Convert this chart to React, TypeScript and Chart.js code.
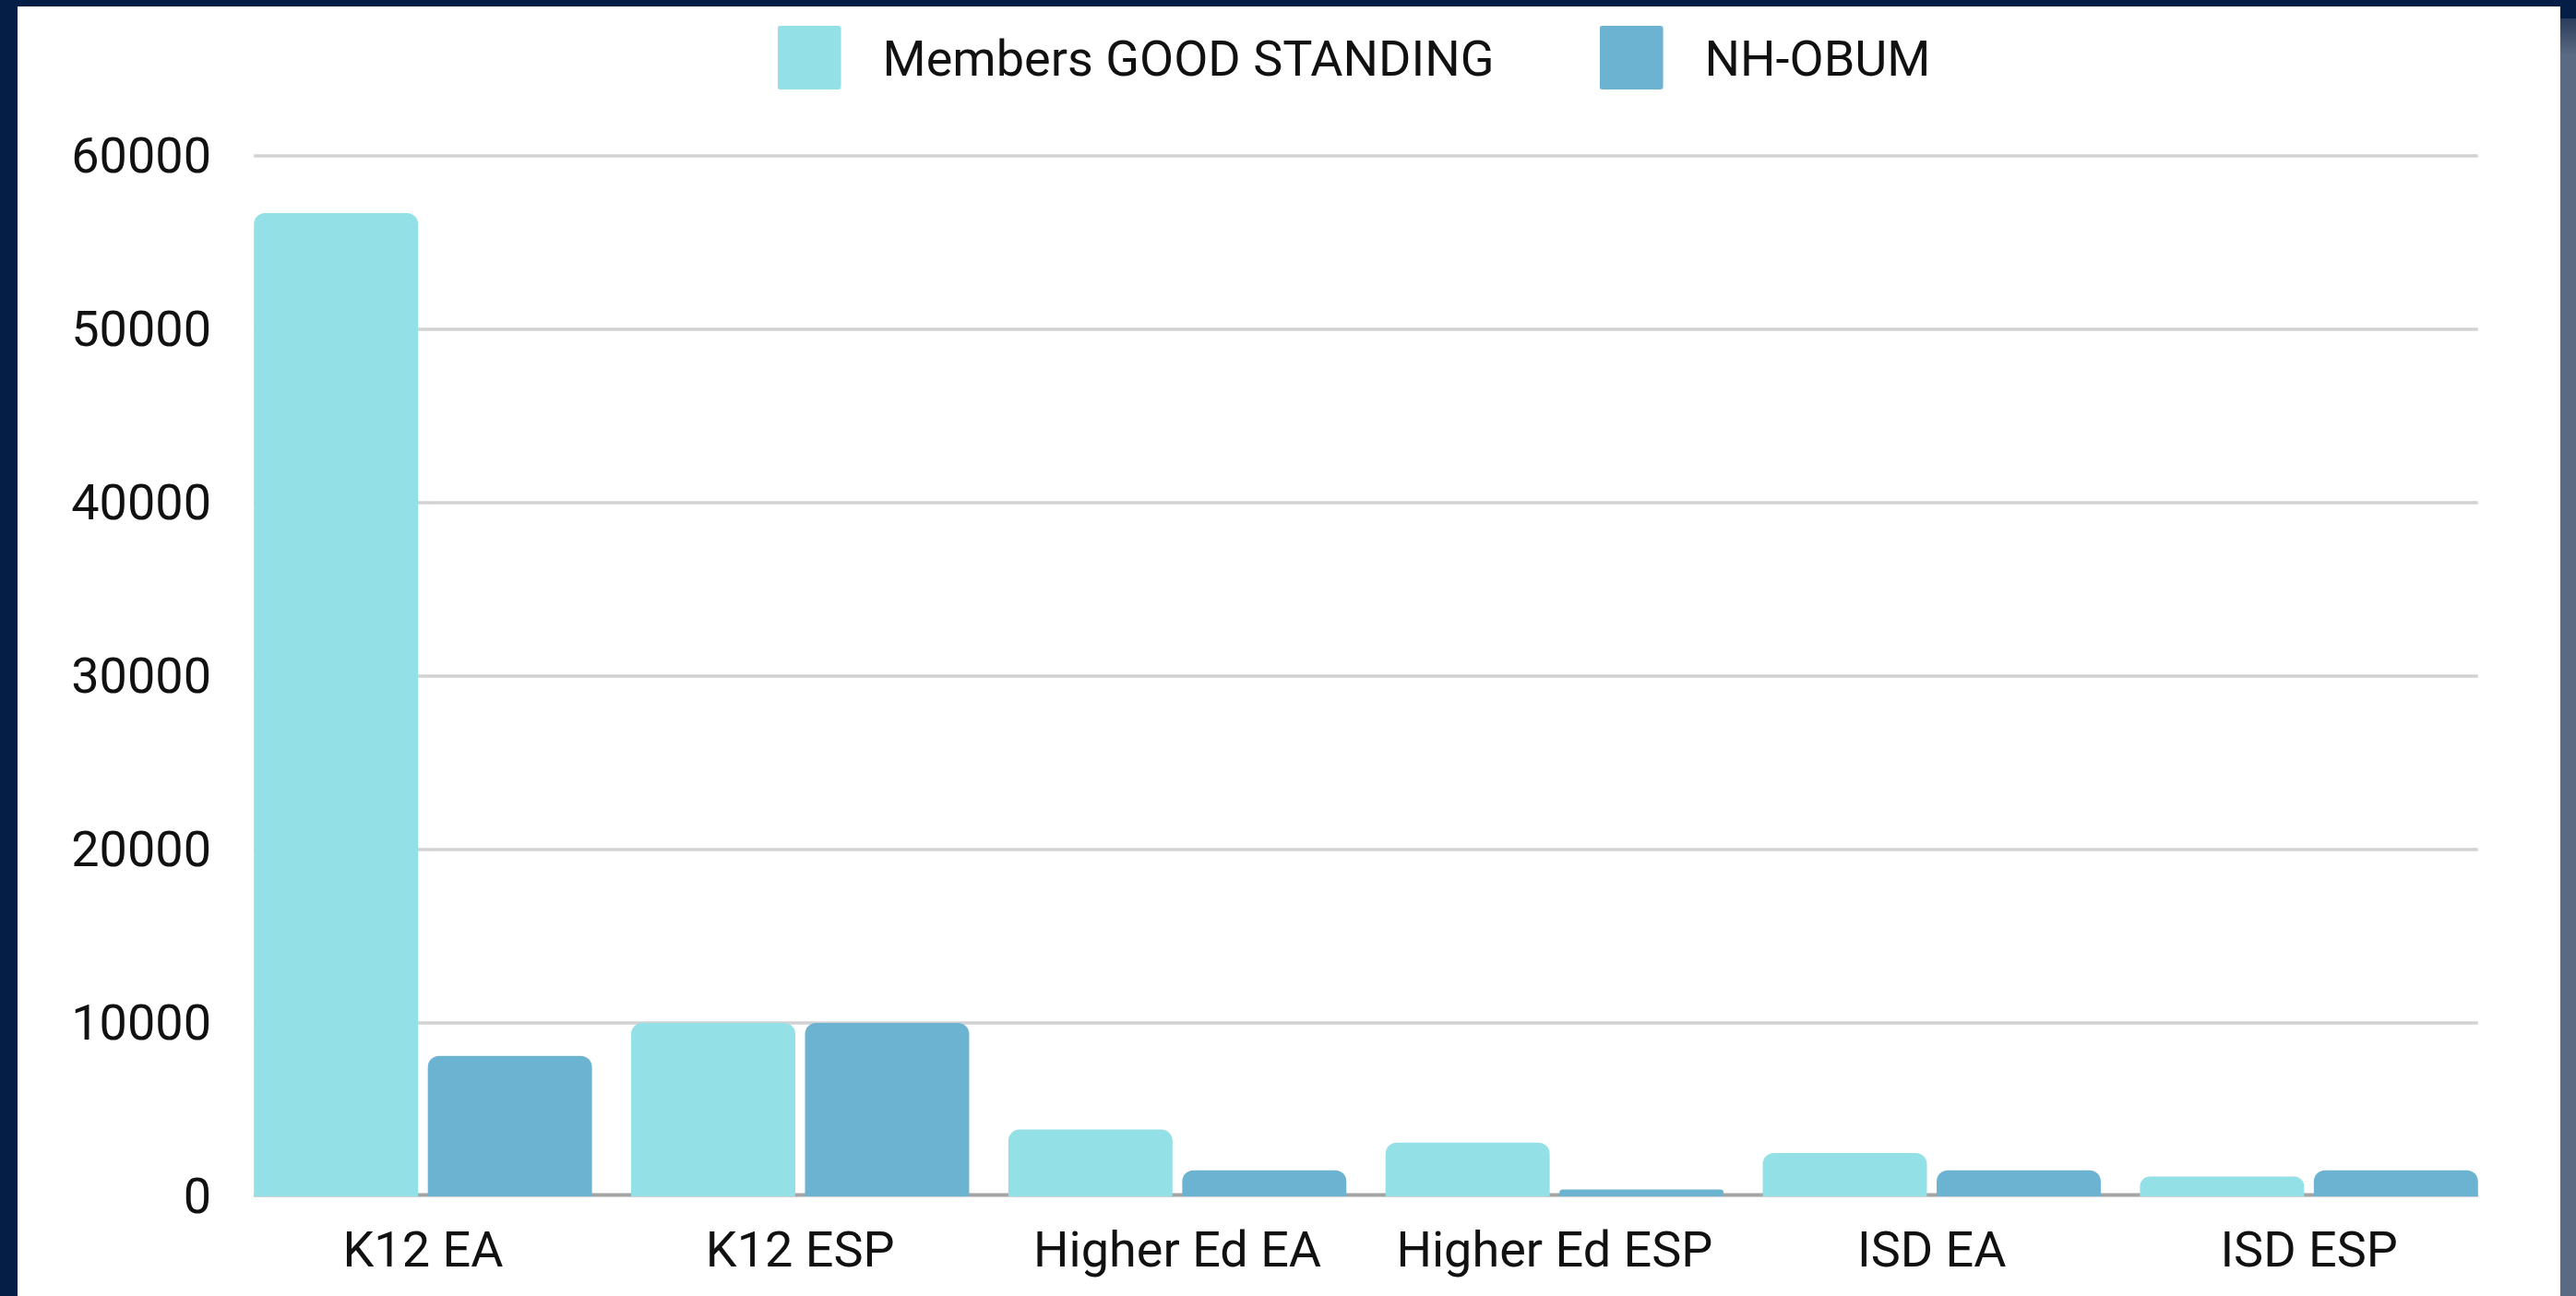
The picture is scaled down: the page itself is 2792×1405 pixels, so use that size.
import React, { useEffect, useRef } from 'react';
import { Chart, registerables } from 'chart.js';

Chart.register(...registerables);

// ---- data ----
const categories = ['K12 EA', 'K12 ESP', 'Higher Ed EA', 'Higher Ed ESP', 'ISD EA', 'ISD ESP'];
const seriesNames = ['Members GOOD STANDING', 'NH-OBUM'];
const membersGoodStanding = [56700, 10000, 3850, 3100, 2500, 1150];
const nhObum = [8100, 10000, 1500, 400, 1500, 1500];
const yTickValues = [0, 10000, 20000, 30000, 40000, 50000, 60000];

const COLORS = ['#93E0E6', '#6CB3D2'];
const FONT_FAMILY = 'Roboto, "Noto Sans", sans-serif';
const TEXT_COLOR = '#111111';

// legend swatch: 69px square, 18px blank to its right, 12px blank below
function makeSwatch(color: string): HTMLCanvasElement {
  const c = document.createElement('canvas');
  c.width = 87;
  c.height = 81;
  const ctx = c.getContext('2d')!;
  ctx.fillStyle = color;
  ctx.beginPath();
  if ((ctx as any).roundRect) (ctx as any).roundRect(0, 0, 69, 69, 3);
  else ctx.rect(0, 0, 69, 69);
  ctx.fill();
  return c;
}

const barGridPlugin = {
  id: 'barGrid',
  beforeDatasetsDraw(chart: any) {
    const { ctx } = chart;
    const y = chart.scales.y;
    const firstMeta = chart.getDatasetMeta(0);
    const lastMeta = chart.getDatasetMeta(chart.data.datasets.length - 1);
    const first = firstMeta.data[0];
    const last = lastMeta.data[lastMeta.data.length - 1];
    if (!first || !last) return;
    const left = first.x - first.width / 2;
    const right = last.x + last.width / 2;
    ctx.save();
    y.ticks.forEach((t: any) => {
      const py = y.getPixelForValue(t.value);
      ctx.beginPath();
      ctx.strokeStyle = t.value === 0 ? '#a4a4a4' : '#d2d2d2';
      ctx.lineWidth = t.value === 0 ? 4 : 3.5;
      const yy = t.value === 0 ? py - 1.5 : py;
      ctx.moveTo(left, yy);
      ctx.lineTo(right, yy);
      ctx.stroke();
    });
    ctx.restore();
  },
};

export default function App() {
  const canvasRef = useRef<HTMLCanvasElement | null>(null);

  useEffect(() => {
    document.body.style.margin = '0';
    document.body.style.overflow = 'hidden';
    const canvas = canvasRef.current;
    if (!canvas) return;
    const swatches = COLORS.map(makeSwatch);
    const font = { family: FONT_FAMILY, size: 54 };

    const chart = new Chart(canvas, {
      type: 'bar',
      data: {
        labels: categories,
        datasets: [
          {
            label: seriesNames[0],
            data: membersGoodStanding,
            backgroundColor: COLORS[0],
            borderRadius: 12,
            borderSkipped: 'start',
            barPercentage: 0.944,
            categoryPercentage: 0.922,
            yAxisID: 'y',
          },
          {
            label: seriesNames[1],
            data: nhObum,
            backgroundColor: COLORS[1],
            borderRadius: 12,
            borderSkipped: 'start',
            barPercentage: 0.944,
            categoryPercentage: 0.922,
            yAxisID: 'y',
          },
        ],
      },
      options: {
        responsive: false,
        animation: false,
        devicePixelRatio: 1,
        layout: { padding: { left: 0, right: -143, top: -72.5, bottom: 0 } },
        plugins: {
          legend: {
            position: 'top',
            fullSize: true,
            labels: {
              usePointStyle: true,
              pointStyleWidth: 87,
              padding: 114,
              font,
              color: TEXT_COLOR,
              generateLabels: (ch: any) => {
                const items = Chart.defaults.plugins.legend.labels.generateLabels(ch);
                return items.map((it: any, i: number) => ({ ...it, pointStyle: swatches[i % swatches.length] }));
              },
            },
          },
          subtitle: {
            display: true,
            text: '',
            position: 'top',
            weight: 500,
            font: { size: 10 },
            padding: { top: 0, bottom: 51.5 },
          },
          tooltip: { enabled: false },
        },
        scales: {
          x: {
            grid: { display: false, drawTicks: false, tickLength: 0 },
            border: { display: false },
            ticks: { font, color: TEXT_COLOR, padding: 30, maxRotation: 0, autoSkip: false },
            afterFit: (s: any) => { s.height = 108; },
          },
          y: {
            min: 0,
            max: 60000,
            grid: { display: false, drawTicks: false, tickLength: 0 },
            border: { display: false },
            ticks: {
              font,
              color: TEXT_COLOR,
              padding: 25,
              labelOffset: 4,
              callback: (v: any) => String(v),
            },
            afterBuildTicks: (s: any) => { s.ticks = yTickValues.map((v) => ({ value: v })); },
            afterFit: (s: any) => { s.width = 254; },
          },
          yRightSpace: {
            type: 'linear',
            position: 'right',
            display: true,
            grid: { display: false, drawTicks: false },
            border: { display: false },
            ticks: { display: false },
            afterFit: (s: any) => { s.width = 228; },
          },
        },
      },
      plugins: [barGridPlugin],
    } as any);

    return () => chart.destroy();
  }, []);

  return (
    <div style={{ position: 'absolute', left: 0, top: 0, width: 2792, height: 1405, background: '#051E46', overflow: 'hidden' }}>
      <div style={{ position: 'absolute', left: 19, top: 7, width: 2756, height: 1398, background: '#ffffff' }} />
      <div style={{ position: 'absolute', left: 2775, top: 20, width: 17, height: 1385, background: 'linear-gradient(#2a3c5c, #5A6A82 40px, #5A6A82)' }} />
      <canvas ref={canvasRef} width={2792} height={1405} style={{ position: 'absolute', left: 0, top: 0, width: 2792, height: 1405 }} />
    </div>
  );
}
